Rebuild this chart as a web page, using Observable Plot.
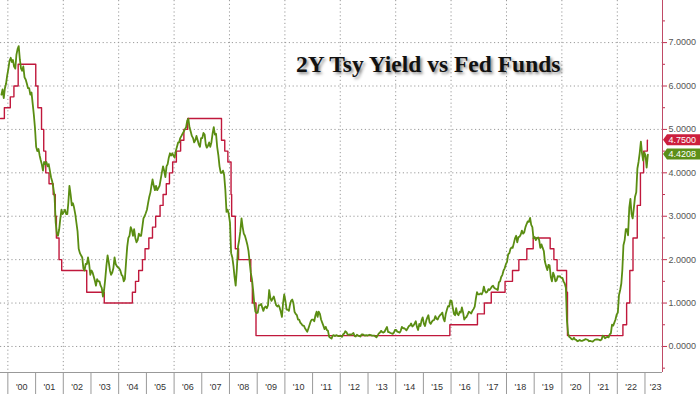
<!DOCTYPE html>
<html><head><meta charset="utf-8">
<script src="https://cdn.jsdelivr.net/npm/d3@7"></script>
<script src="https://cdn.jsdelivr.net/npm/@observablehq/plot@0.6"></script>
<style>
html,body{margin:0;padding:0;background:#fff;}
#chart{width:700px;height:394px;position:relative;overflow:hidden;}
#title{position:absolute;left:296px;top:52px;font-family:"Liberation Serif","DejaVu Serif",serif;font-weight:bold;font-size:23.5px;line-height:24px;color:#111;white-space:nowrap;text-shadow:2px 2px 3px rgba(0,0,0,0.45);}
</style></head><body><div id="chart"><div id="title"></div></div>
<script>
const title = "2Y Tsy Yield vs Fed Funds";
const yearLabels = ["'00","'01","'02","'03","'04","'05","'06","'07","'08","'09","'10","'11","'12","'13","'14","'15","'16","'17","'18","'19","'20","'21","'22","'23"];
const yTicks = [0,1,2,3,4,5,6,7];
const yMinorTicks = [-0.5,0.5,1.5,2.5,3.5,4.5,5.5,6.5,7.5];
const lastFed = 4.75;
const lastTsy = 4.4208;

// Fed funds target (upper bound)
const fedDates = ["1999-09-27","1999-11-16","2000-02-02","2000-03-21","2000-05-16","2001-01-03","2001-01-31","2001-03-20","2001-04-18","2001-05-15","2001-06-27","2001-08-21","2001-09-17","2001-10-02","2001-11-06","2001-12-11","2002-11-06","2003-06-25","2004-06-30","2004-08-10","2004-09-21","2004-11-10","2004-12-14","2005-02-02","2005-03-22","2005-05-03","2005-06-30","2005-08-09","2005-09-20","2005-11-01","2005-12-13","2006-01-31","2006-03-28","2006-05-10","2006-06-29","2007-09-18","2007-10-31","2007-12-11","2008-01-22","2008-01-30","2008-03-18","2008-04-30","2008-10-08","2008-10-29","2008-12-16","2015-12-16","2016-12-14","2017-03-15","2017-06-14","2017-12-13","2018-03-21","2018-06-13","2018-09-26","2018-12-19","2019-07-31","2019-09-18","2019-10-30","2020-03-03","2020-03-15","2022-03-16","2022-05-04","2022-06-15","2022-07-27","2022-09-21","2022-11-02","2022-12-14","2023-02-01","2023-02-04"];
const fedRates = [5.25,5.5,5.75,6.0,6.5,6.0,5.5,5.0,4.5,4.0,3.75,3.5,3.0,2.5,2.0,1.75,1.25,1.0,1.25,1.5,1.75,2.0,2.25,2.5,2.75,3.0,3.25,3.5,3.75,4.0,4.25,4.5,4.75,5.0,5.25,4.75,4.5,4.25,3.5,3.0,2.25,2.0,1.5,1.0,0.25,0.5,0.75,1.0,1.25,1.5,1.75,2.0,2.25,2.5,2.25,2.0,1.75,1.25,0.25,0.5,1.0,1.75,2.5,3.25,4.0,4.5,4.75,4.75];

// 2Y Treasury yield, two readings per month (8th, 23rd) from Oct 1999
const tsyStartYear = 1999, tsyStartMonth = 9;
const tsy2y = [
// 1999 Oct-Dec
5.80,5.92,5.72,5.95,6.05,6.24,
// 2000
6.40,6.58,6.65,6.55,6.60,6.45,6.40,6.72,6.85,6.92,6.60,6.40,6.35,6.45,6.20,6.15,6.05,5.95,5.95,5.80,5.85,5.60,5.35,5.05,
// 2001
4.60,4.50,4.55,4.40,4.30,4.20,4.05,4.25,4.20,4.25,4.15,4.20,4.05,3.90,3.80,3.65,3.45,2.85,2.60,2.55,2.70,2.95,3.15,3.05,
// 2002
3.10,3.15,3.05,3.05,3.30,3.70,3.50,3.25,3.30,3.20,3.05,2.85,2.65,2.25,2.15,2.10,2.05,1.80,1.75,1.90,1.90,2.05,1.90,1.65,
// 2003
1.75,1.70,1.60,1.50,1.40,1.55,1.50,1.50,1.40,1.35,1.15,1.30,1.55,1.85,2.10,1.95,1.75,1.65,1.70,1.80,2.05,1.90,1.85,1.82,
// 2004
1.80,1.75,1.65,1.62,1.50,1.55,1.95,2.30,2.50,2.55,2.75,2.68,2.55,2.70,2.50,2.40,2.45,2.60,2.55,2.55,2.75,2.95,3.00,3.07,
// 2005
3.15,3.30,3.45,3.55,3.70,3.85,3.70,3.60,3.70,3.60,3.65,3.70,3.85,4.00,4.15,4.05,3.90,4.15,4.20,4.35,4.45,4.40,4.45,4.40,
// 2006
4.35,4.50,4.60,4.70,4.70,4.80,4.85,4.90,4.95,5.00,5.05,5.20,5.25,5.05,4.95,4.85,4.80,4.70,4.75,4.85,4.75,4.65,4.60,4.80,
// 2007
4.80,4.92,4.88,4.65,4.58,4.62,4.70,4.60,4.70,4.90,5.05,4.88,4.90,4.60,4.40,4.15,4.00,4.00,4.05,3.95,3.60,3.10,3.15,3.05,
// 2008
2.85,2.15,2.05,1.85,1.60,1.40,1.80,2.30,2.45,2.65,2.95,2.75,2.60,2.55,2.45,2.35,2.20,1.95,1.70,1.55,1.30,1.00,0.80,0.77,
// 2009
0.78,0.95,0.95,0.98,0.90,0.82,0.90,0.92,0.88,0.95,1.30,1.12,1.05,1.10,1.15,1.05,0.95,0.92,0.95,0.90,0.80,0.68,1.00,1.20,
// 2010
1.05,0.85,0.85,0.82,0.95,1.05,1.08,1.00,0.80,0.75,0.72,0.62,0.62,0.55,0.52,0.48,0.48,0.42,0.38,0.34,0.42,0.50,0.58,0.62,
// 2011
0.62,0.58,0.72,0.80,0.68,0.80,0.75,0.62,0.55,0.48,0.40,0.45,0.38,0.36,0.22,0.20,0.18,0.25,0.26,0.24,0.26,0.25,0.24,0.24,
// 2012
0.24,0.22,0.28,0.30,0.35,0.33,0.27,0.27,0.28,0.27,0.29,0.31,0.24,0.23,0.27,0.25,0.24,0.23,0.28,0.28,0.26,0.25,0.26,0.25,
// 2013
0.26,0.27,0.26,0.25,0.25,0.25,0.23,0.21,0.25,0.30,0.32,0.36,0.33,0.32,0.34,0.40,0.45,0.33,0.33,0.31,0.30,0.29,0.32,0.38,
// 2014
0.38,0.34,0.33,0.32,0.36,0.45,0.42,0.42,0.40,0.37,0.42,0.47,0.48,0.53,0.46,0.48,0.53,0.58,0.45,0.38,0.52,0.47,0.60,0.67,
// 2015
0.52,0.47,0.60,0.67,0.72,0.56,0.52,0.57,0.60,0.61,0.70,0.64,0.62,0.68,0.72,0.74,0.78,0.64,0.58,0.75,0.85,0.93,0.92,1.06,
// 2016
1.05,0.90,0.75,0.72,0.88,0.75,0.72,0.80,0.78,0.90,0.78,0.62,0.66,0.68,0.74,0.80,0.78,0.76,0.82,0.86,0.92,1.10,1.25,1.20,
// 2017
1.20,1.22,1.20,1.26,1.38,1.28,1.24,1.26,1.32,1.30,1.34,1.38,1.40,1.35,1.33,1.32,1.30,1.48,1.50,1.60,1.65,1.75,1.80,1.89,
// 2018
1.95,2.12,2.15,2.25,2.28,2.27,2.38,2.49,2.55,2.40,2.52,2.53,2.58,2.67,2.60,2.63,2.75,2.82,2.88,2.87,2.96,2.80,2.75,2.49,
// 2019
2.52,2.45,2.50,2.51,2.45,2.27,2.35,2.27,2.20,1.95,1.85,1.76,1.88,1.87,1.60,1.50,1.70,1.63,1.50,1.52,1.62,1.61,1.62,1.58,
// 2020
1.58,1.50,1.45,1.35,0.60,0.30,0.22,0.20,0.17,0.16,0.20,0.16,0.15,0.12,0.13,0.15,0.13,0.13,0.14,0.15,0.17,0.16,0.15,0.12,
// 2021
0.13,0.12,0.11,0.13,0.15,0.16,0.16,0.16,0.15,0.14,0.16,0.25,0.23,0.19,0.21,0.22,0.21,0.28,0.30,0.50,0.48,0.55,0.62,0.73,
// 2022
0.78,1.18,1.30,1.45,1.75,2.33,2.45,2.70,2.70,2.56,3.20,3.40,3.05,2.95,3.20,3.45,3.55,4.10,4.25,4.45,4.72,4.45,4.28,4.47,
// 2023 Jan-Feb
4.40,4.12,4.42
];

const redColor = "#c0183c";
const greenColor = "#5a8d12";

const parse = d3.utcParse("%Y-%m-%d");
const fed = fedDates.map((d, i) => ({date: parse(d), rate: fedRates[i]}));
const tsy = tsy2y.map((v, i) => ({date: new Date(Date.UTC(tsyStartYear, tsyStartMonth + Math.floor(i / 2), i % 2 ? 23 : 8)), rate: v}));

const xDomain = [new Date(Date.UTC(1999, 8, 26)), new Date(Date.UTC(2023, 7, 20))];
const yDomain = [-0.6, 7.97];
const yearStarts = yearLabels.map((_, i) => new Date(Date.UTC(2000 + i, 0, 1)));
const evenYears = yearStarts.filter(d => d.getUTCFullYear() % 2 === 0);
const labelDates = yearLabels.map((_, i) => i < yearLabels.length - 1 ? new Date(Date.UTC(2000 + i, 6, 2)) : new Date(Date.UTC(2000 + i, 4, 22)));
const labelOf = d => yearLabels[d.getUTCFullYear() - 2000];

const plot = Plot.plot({
  width: 700, height: 394,
  marginLeft: 0, marginRight: 38, marginTop: 0, marginBottom: 22,
  style: {fontFamily: "'Liberation Sans', Arial, sans-serif", fontSize: "9px", background: "#fff", overflow: "visible"},
  x: {type: "utc", domain: xDomain, label: null},
  y: {domain: yDomain, label: null},
  marks: [
    Plot.ruleY(yTicks, {stroke: "#9a9a9a", strokeDasharray: "1.2,2.6", strokeWidth: 1}),
    Plot.ruleX(evenYears, {stroke: "#9a9a9a", strokeDasharray: "1.2,2.6", strokeWidth: 1}),
    Plot.ruleY([yDomain[0]], {stroke: "#999"}),
    Plot.axisX({ticks: yearStarts, tickSize: 22, tickFormat: () => "", stroke: "#999", label: null}),
    Plot.axisX({ticks: labelDates, tickSize: 0, tickPadding: 11, tickFormat: labelOf, fill: "#333", label: null}),
    Plot.axisY({anchor: "right", ticks: yMinorTicks, tickSize: 2, tickFormat: () => "", stroke: "#c0304f", label: null}),
    Plot.axisY({anchor: "right", ticks: yTicks, tickSize: 4, tickPadding: 2, tickFormat: d3.format(".4f"), stroke: "#c0304f", fill: "#555", label: null}),
    Plot.line(fed, {x: "date", y: "rate", curve: "step-after", stroke: redColor, strokeWidth: 1.4}),
    Plot.line(tsy, {x: "date", y: "rate", stroke: greenColor, strokeWidth: 1.8}),
    Plot.ruleX([xDomain[1]], {stroke: "#c04a66", strokeWidth: 1})
  ]
});

document.getElementById("chart").appendChild(plot);
document.getElementById("title").textContent = title;

const svg = d3.select(plot);
const ys = plot.scale("y");
function tag(v, color) {
  const y = ys.apply(v);
  const g = svg.append("g");
  g.append("path")
    .attr("d", `M663,${y} L667,${y - 5.5} L700,${y - 5.5} L700,${y + 5.5} L667,${y + 5.5} Z`)
    .attr("fill", color);
  g.append("text").attr("x", 668.5).attr("y", y).attr("dy", "0.35em")
    .attr("text-anchor", "start")
    .attr("fill", "#fff").attr("font-size", 9).text(d3.format(".4f")(v));
}
tag(lastFed, "#cc1f3d");
tag(lastTsy, "#5c8f18");
</script>
</body></html>
